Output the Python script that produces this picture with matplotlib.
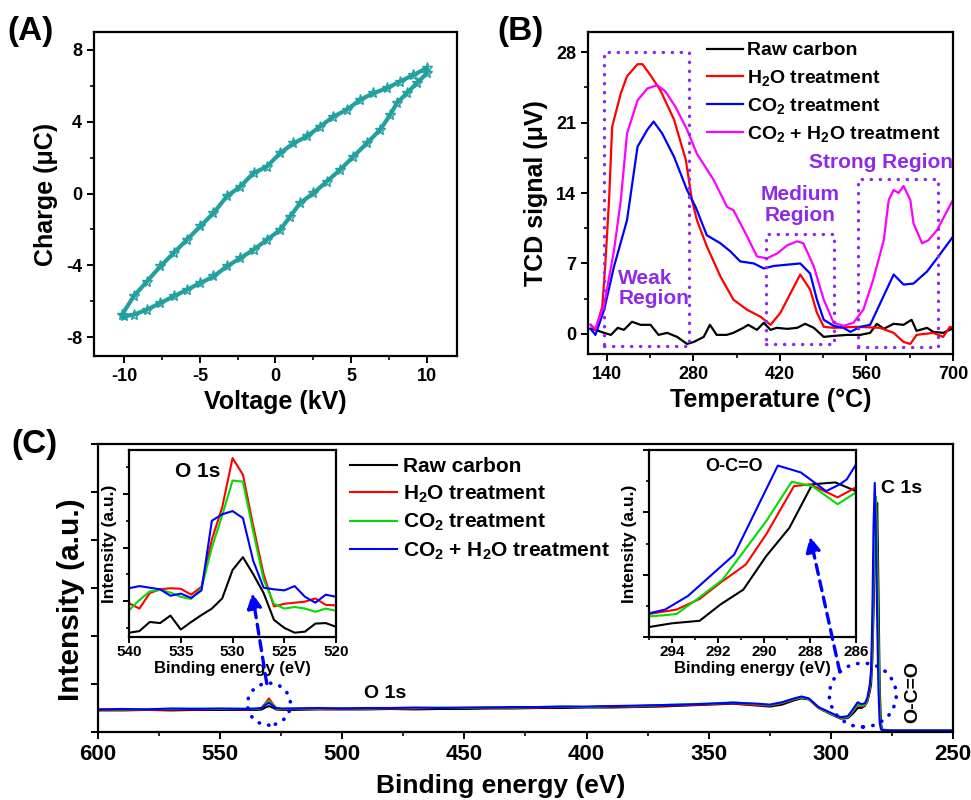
import matplotlib
matplotlib.use("Agg")
import matplotlib.pyplot as plt
from matplotlib.patches import Rectangle, Ellipse, ConnectionPatch
from matplotlib.ticker import MultipleLocator, NullFormatter

# ---------------- data ----------------
# (A) Q-V loop
volt_up = [-10.15, -9.38, -8.5, -7.62, -6.74, -5.86, -4.98, -4.1, -3.22, -2.33, -1.45, -0.57,
           0.31, 1.19, 2.07, 2.95, 3.83, 4.71, 5.59, 6.48, 7.36, 8.24, 9.12, 10.0]
charge_up = [-6.75, -5.73, -4.9, -4.06, -3.32, -2.58, -1.83, -1.09, -0.16, 0.39, 1.14, 1.5,
             2.25, 2.8, 3.18, 3.73, 4.29, 4.66, 5.22, 5.59, 5.87, 6.24, 6.61, 6.98]
volt_down = [10.0, 9.34, 8.68, 8.02, 7.58, 6.92, 6.04, 5.15, 4.27, 3.39, 2.51, 1.63, 0.97,
             0.31, -0.57, -1.45, -2.33, -3.22, -4.1, -4.98, -5.86, -6.74, -7.62, -8.5, -9.38, -10.04]
charge_down = [6.7, 6.14, 5.59, 5.03, 4.38, 3.55, 2.8, 2.06, 1.32, 0.67, 0.02, -0.53, -1.28,
               -2.02, -2.58, -3.13, -3.6, -4.06, -4.62, -4.99, -5.36, -5.73, -6.1, -6.47, -6.75, -6.84]

# (B) TPD
t_raw = [114, 122, 136, 147, 158, 168, 181, 195, 211, 224, 238, 254, 270, 281, 297, 307, 318, 334,
         345, 361, 369, 383, 394, 405, 415, 432, 448, 461, 475, 491, 507, 529, 550, 566, 577, 588,
         604, 620, 633, 641, 658, 668, 684, 698, 700]
tcd_raw = [0.5, 0.4, 0.1, -0.1, 0.6, 0.4, 1.2, 0.9, 0.9, -0.1, 0.1, -0.3, -1.0, -0.8, -0.3, 0.9,
           -0.1, -0.1, 0.1, 0.6, 0.9, 0.4, 1.1, 0.4, 0.6, 0.5, 0.6, 1.0, 0.6, -0.3, -0.2, -0.1,
           -0.1, 0.1, 1.0, 0.5, 1.0, 0.9, 1.4, 0.3, 0.6, 0.2, 0.1, 0.5, 0.4]
t_h2o = [114, 122, 133, 138, 144, 149, 163, 173, 190, 198, 211, 227, 249, 268, 278, 286, 294, 302,
         324, 345, 367, 389, 405, 421, 437, 453, 469, 480, 491, 507, 545, 582, 604, 620, 631, 641,
         668, 684, 695, 700]
tcd_h2o = [0.9, 0.4, 2.7, 7.0, 13.3, 20.6, 23.9, 25.6, 26.8, 26.8, 25.7, 24.2, 21.3, 17.3, 13.3,
           11.3, 10.0, 8.7, 5.7, 3.4, 2.4, 1.7, 0.9, 2.1, 4.0, 5.9, 4.4, 2.1, 0.7, 0.6, 0.7, 0.6,
           0.1, -0.8, -1.0, -0.1, 0.1, -0.3, 0.7, 0.6]
t_co2 = [114, 122, 136, 152, 173, 190, 206, 216, 230, 249, 270, 284, 302, 324, 340, 356, 378, 394,
         410, 453, 469, 480, 491, 507, 523, 534, 550, 566, 582, 604, 620, 636, 658, 674, 698, 700]
tcd_co2 = [0.5, -0.1, 2.4, 6.7, 11.3, 18.6, 20.3, 21.1, 19.9, 17.6, 14.3, 12.6, 9.8, 9.0, 8.2, 7.2,
           7.0, 6.5, 6.75, 7.0, 6.0, 3.4, 1.4, 0.8, 0.6, 0.2, 0.7, 0.9, 3.0, 5.9, 4.9, 5.0, 6.2,
           7.5, 9.5, 9.7]
t_mix = [114, 122, 136, 152, 163, 173, 190, 206, 222, 235, 251, 270, 286, 313, 335, 345, 367, 383,
         399, 416, 432, 448, 458, 475, 491, 507, 523, 539, 555, 571, 588, 596, 604, 612, 620, 631,
         636, 650, 660, 674, 698, 700]
tcd_mix = [0.9, 0.5, 2.9, 8.3, 13.3, 19.9, 23.2, 24.4, 24.7, 24.1, 22.6, 20.3, 17.9, 15.3, 12.6,
           12.3, 9.7, 7.7, 7.5, 8.0, 8.8, 9.2, 9.0, 6.7, 3.4, 1.1, 0.8, 1.1, 2.4, 5.4, 9.3, 13.3,
           14.3, 14.0, 14.7, 13.3, 11.0, 9.0, 9.3, 10.3, 13.1, 13.3]

# (C) XPS survey
ev_c = [600, 590, 580, 570, 560, 550, 540, 535, 533, 531.5, 530, 528.5, 527, 525, 520, 510, 500,
        490, 480, 470, 460, 450, 440, 430, 420, 410, 400, 390, 380, 370, 360, 350, 340, 330, 325,
        320, 315, 312, 309, 305, 300, 296, 293, 291, 289, 287.5, 286, 285, 284, 283.5, 283, 282.5,
        282, 281.5, 281, 280.5, 280, 279.5, 279, 275, 260, 250]
raw_c = [0.45, 0.45, 0.46, 0.45, 0.46, 0.46, 0.46, 0.46, 0.47, 0.51, 0.54, 0.51, 0.47, 0.46, 0.46,
         0.47, 0.47, 0.47, 0.48, 0.47, 0.48, 0.48, 0.49, 0.49, 0.50, 0.50, 0.51, 0.51, 0.52, 0.53,
         0.55, 0.57, 0.59, 0.55, 0.53, 0.57, 0.66, 0.70, 0.68, 0.50, 0.37, 0.28, 0.29, 0.38, 0.50,
         0.50, 0.55, 0.64, 0.85, 1.00, 1.50, 2.50, 3.70, 4.50, 4.77, 3.00, 1.00, 0.20, 0.05, 0.03,
         0.03, 0.03]
h2o_c = [0.46, 0.47, 0.46, 0.47, 0.47, 0.48, 0.47, 0.48, 0.50, 0.60, 0.70, 0.59, 0.49, 0.47, 0.48,
         0.48, 0.48, 0.49, 0.49, 0.49, 0.50, 0.50, 0.50, 0.51, 0.51, 0.52, 0.52, 0.53, 0.53, 0.55,
         0.56, 0.58, 0.60, 0.56, 0.55, 0.60, 0.68, 0.72, 0.69, 0.50, 0.38, 0.30, 0.31, 0.43, 0.56,
         0.53, 0.56, 0.66, 0.92, 1.15, 1.80, 3.20, 4.40, 4.85, 3.70, 1.90, 0.55, 0.12, 0.04, 0.03,
         0.03, 0.03]
co2_c = [0.48, 0.47, 0.48, 0.48, 0.49, 0.48, 0.49, 0.48, 0.50, 0.58, 0.65, 0.57, 0.49, 0.48, 0.49,
         0.49, 0.50, 0.49, 0.50, 0.50, 0.51, 0.50, 0.52, 0.51, 0.52, 0.53, 0.52, 0.54, 0.54, 0.56,
         0.58, 0.59, 0.62, 0.58, 0.56, 0.61, 0.69, 0.72, 0.69, 0.51, 0.38, 0.30, 0.31, 0.44, 0.58,
         0.55, 0.57, 0.68, 0.95, 1.20, 1.90, 3.30, 4.50, 4.90, 3.60, 1.80, 0.50, 0.10, 0.04, 0.03,
         0.03, 0.03]
mix_c = [0.47, 0.48, 0.47, 0.49, 0.48, 0.49, 0.48, 0.49, 0.50, 0.56, 0.61, 0.55, 0.50, 0.49, 0.49,
         0.50, 0.49, 0.50, 0.50, 0.51, 0.50, 0.51, 0.51, 0.52, 0.52, 0.53, 0.53, 0.54, 0.55, 0.56,
         0.57, 0.59, 0.61, 0.59, 0.57, 0.62, 0.70, 0.74, 0.70, 0.52, 0.40, 0.31, 0.33, 0.47, 0.62,
         0.58, 0.60, 0.72, 1.00, 1.30, 2.40, 4.30, 5.19, 4.00, 2.30, 0.90, 0.20, 0.06, 0.04, 0.03,
         0.03, 0.03]

# O 1s inset
ev_o = [540, 539, 538, 537, 536, 535, 534, 533, 532, 531, 530, 529, 528, 527, 526, 525, 524, 523,
        522, 521, 520]
raw_o = [0.41, 0.44, 0.61, 0.59, 0.73, 0.47, 0.61, 0.74, 0.86, 1.05, 1.58, 1.82, 1.5, 1.15, 0.65,
         0.5, 0.41, 0.43, 0.58, 0.59, 0.52]
h2o_o = [0.96, 0.86, 1.15, 1.22, 1.24, 1.23, 1.12, 1.27, 2.15, 2.75, 3.67, 3.36, 2.4, 1.5, 0.9,
         0.95, 0.97, 0.99, 1.05, 0.93, 0.92]
co2_o = [0.83, 1.02, 1.18, 1.21, 1.16, 1.08, 1.04, 1.24, 2.0, 2.6, 3.25, 3.23, 2.3, 1.4, 0.95,
         0.86, 0.89, 0.86, 0.80, 0.86, 0.82]
mix_o = [1.24, 1.28, 1.25, 1.22, 1.10, 1.14, 1.06, 1.20, 2.5, 2.62, 2.68, 2.55, 1.75, 1.25, 1.22,
         1.2, 1.28, 1.08, 0.97, 1.12, 1.08]

# O-C=O inset
ev_raw_r = [295.0, 294.0, 292.8, 291.9, 290.9, 289.9, 288.9, 287.9, 286.9, 286.0]
raw_r = [0.16, 0.22, 0.26, 0.52, 0.76, 1.30, 1.75, 2.45, 2.48, 2.34]
ev_h2o_r = [295.0, 293.8, 292.8, 291.9, 290.8, 289.9, 288.7, 288.0, 286.8, 286.0]
h2o_r = [0.37, 0.44, 0.61, 0.87, 1.16, 1.65, 2.42, 2.45, 2.24, 2.40]
ev_co2_r = [295.0, 294.3, 293.8, 292.9, 291.8, 289.9, 288.8, 287.9, 286.8, 286.0]
co2_r = [0.33, 0.35, 0.37, 0.61, 0.92, 1.86, 2.49, 2.42, 2.13, 2.32]
ev_mix_r = [295.0, 294.3, 293.3, 291.3, 289.4, 288.4, 287.3, 286.7, 286.4, 286.0]
mix_r = [0.38, 0.44, 0.66, 1.32, 2.75, 2.64, 2.34, 2.45, 2.53, 2.77]

# ---------------- style ----------------
plt.rcParams["font.family"] = ["Liberation Sans", "DejaVu Sans"]
plt.rcParams["font.weight"] = "bold"
plt.rcParams["axes.labelweight"] = "bold"
plt.rcParams["axes.unicode_minus"] = False
plt.rcParams["mathtext.fontset"] = "custom"
plt.rcParams["mathtext.rm"] = "Liberation Sans:bold"
plt.rcParams["mathtext.bf"] = "Liberation Sans:bold"
plt.rcParams["mathtext.it"] = "Liberation Sans:bold"
plt.rcParams["axes.linewidth"] = 1.6
for k in ["xtick", "ytick"]:
    plt.rcParams[k + ".direction"] = "out"
    plt.rcParams[k + ".major.size"] = 5
    plt.rcParams[k + ".major.width"] = 1.4
    plt.rcParams[k + ".minor.size"] = 3
    plt.rcParams[k + ".minor.width"] = 1.2

violet = "#8f2be8"
teal = "#22a0a0"
green = "#00dd00"

fig = plt.figure(figsize=(9.71, 8.0), dpi=100)

# ---------------- (A) ----------------
ax_a = fig.add_axes([0.0968, 0.555, 0.3738, 0.405])
ax_a.plot(volt_up, charge_up, color=teal, lw=3, marker="*", ms=8, mfc="none", mew=1)
ax_a.plot(volt_down, charge_down, color=teal, lw=3, marker="*", ms=8, mfc="none", mew=1)
ax_a.set_xlim(-12, 12)
ax_a.set_ylim(-9.05, 9.0)
ax_a.xaxis.set_major_locator(MultipleLocator(5))
ax_a.xaxis.set_minor_locator(MultipleLocator(2.5))
ax_a.yaxis.set_major_locator(MultipleLocator(4))
ax_a.yaxis.set_minor_locator(MultipleLocator(2))
ax_a.tick_params(labelsize=13)
ax_a.set_xlabel("Voltage (kV)", fontsize=18, labelpad=4)
ax_a.set_ylabel("Charge (μC)", fontsize=18, labelpad=6)

# ---------------- (B) ----------------
ax_b = fig.add_axes([0.6056, 0.5575, 0.3759, 0.4025])
ax_b.plot(t_raw, tcd_raw, color="black", lw=1.6, label="Raw carbon")
ax_b.plot(t_h2o, tcd_h2o, color="red", lw=1.6, label="H$_2$O treatment")
ax_b.plot(t_co2, tcd_co2, color="blue", lw=1.6, label="CO$_2$ treatment")
ax_b.plot(t_mix, tcd_mix, color="magenta", lw=1.6, label="CO$_2$ + H$_2$O treatment")
ax_b.set_xlim(110, 700)
ax_b.set_ylim(-2, 30)
ax_b.xaxis.set_major_locator(MultipleLocator(140))
ax_b.xaxis.set_minor_locator(MultipleLocator(70))
ax_b.yaxis.set_major_locator(MultipleLocator(7))
ax_b.yaxis.set_minor_locator(MultipleLocator(3.5))
ax_b.tick_params(labelsize=13)
ax_b.set_xlabel("Temperature (°C)", fontsize=18, labelpad=4)
ax_b.set_ylabel("TCD signal (μV)", fontsize=18, labelpad=6)
dots = (0, (0.1, 2.6))
for x0, y0, x1, y1 in [(135, -1.2, 274, 28), (397, -1.0, 507, 9.9), (547, -1.3, 676, 15.4)]:
    ax_b.add_patch(Rectangle((x0, y0), x1 - x0, y1 - y0, fill=False, ec=violet, lw=2.4,
                             ls=dots, capstyle="round", zorder=3))
ax_b.text(159, 4.5, "Weak\nRegion", color=violet, fontsize=15, ha="left", va="center",
          linespacing=1.1)
ax_b.text(453, 12.8, "Medium\nRegion", color=violet, fontsize=15, ha="center", va="center",
          linespacing=1.1)
ax_b.text(584, 17.0, "Strong Region", color=violet, fontsize=15, ha="center", va="center")
ax_b.legend(loc="upper left", bbox_to_anchor=(0.29, 1.012), frameon=False, fontsize=14,
            handlelength=1.85, handletextpad=0.2, labelspacing=0.42, borderpad=0.2)

# ---------------- (C) ----------------
ax_c = fig.add_axes([0.1009, 0.085, 0.8805, 0.36])
ax_c.plot(ev_c, raw_c, color="black", lw=1.5, label="Raw carbon")
ax_c.plot(ev_c, h2o_c, color="red", lw=1.5, label="H$_2$O treatment")
ax_c.plot(ev_c, co2_c, color=green, lw=1.5, label="CO$_2$ treatment")
ax_c.plot(ev_c, mix_c, color="blue", lw=1.5, label="CO$_2$ + H$_2$O treatment")
ax_c.set_xlim(600, 250)
ax_c.set_ylim(0, 6)
ax_c.xaxis.set_major_locator(MultipleLocator(50))
ax_c.xaxis.set_minor_locator(MultipleLocator(25))
ax_c.yaxis.set_major_locator(MultipleLocator(1))
ax_c.yaxis.set_major_formatter(NullFormatter())
ax_c.tick_params(labelsize=16)
ax_c.set_xlabel("Binding energy (eV)", fontsize=19)
ax_c.xaxis.set_label_coords(0.471, -0.145)
ax_c.set_ylabel("Intensity (a.u.)", fontsize=21.5)
ax_c.yaxis.set_label_coords(-0.015, 0.458)
ax_c.text(482.5, 0.81, "O 1s", fontsize=14, ha="center", va="center")
ax_c.text(279.3, 5.08, "C 1s", fontsize=14, ha="left", va="center")
ax_c.text(266.4, 0.83, "O-C=O", fontsize=14, ha="center", va="center", rotation=90)
ax_c.add_patch(Ellipse((530, 0.58), 17.6, 0.875, fill=False, ec="blue", lw=2.6, ls=dots,
                       capstyle="round", zorder=5))
ax_c.add_patch(Ellipse((286.9, 0.77), 27.4, 1.33, fill=False, ec="blue", lw=2.6, ls=dots,
                       capstyle="round", zorder=5))
ax_c.legend(loc="upper left", bbox_to_anchor=(0.278, 1.005), frameon=False, fontsize=15,
            handlelength=2.26, handletextpad=0.25, labelspacing=0.35, borderpad=0.2)

# O 1s inset
ins_o = fig.add_axes([0.1329, 0.20375, 0.2132, 0.23375])
ins_o.plot(ev_o, raw_o, color="black", lw=1.5)
ins_o.plot(ev_o, h2o_o, color="red", lw=1.5)
ins_o.plot(ev_o, co2_o, color=green, lw=1.5)
ins_o.plot(ev_o, mix_o, color="blue", lw=1.5)
ins_o.set_xlim(540, 520)
ins_o.set_ylim(0.33, 3.82)
ins_o.xaxis.set_major_locator(MultipleLocator(5))
ins_o.yaxis.set_major_locator(MultipleLocator(1))
ins_o.yaxis.set_minor_locator(MultipleLocator(0.5))
ins_o.yaxis.set_major_formatter(NullFormatter())
ins_o.tick_params(labelsize=11, length=4, pad=2)
ins_o.tick_params(which="minor", length=2.5)
ins_o.set_xlabel("Binding energy (eV)", fontsize=12, labelpad=1)
ins_o.set_ylabel("Intensity (a.u.)", fontsize=12.5, labelpad=3)
ins_o.text(533.4, 3.41, "O 1s", fontsize=15, ha="center", va="center")

# O-C=O inset
ins_r = fig.add_axes([0.6684, 0.20375, 0.2132, 0.23375])
ins_r.plot(ev_raw_r, raw_r, color="black", lw=1.5)
ins_r.plot(ev_h2o_r, h2o_r, color="red", lw=1.5)
ins_r.plot(ev_co2_r, co2_r, color=green, lw=1.5)
ins_r.plot(ev_mix_r, mix_r, color="blue", lw=1.5)
ins_r.set_xlim(295, 286)
ins_r.set_ylim(0, 3)
ins_r.xaxis.set_major_locator(MultipleLocator(2))
ins_r.xaxis.set_minor_locator(MultipleLocator(1))
ins_r.yaxis.set_major_locator(MultipleLocator(1))
ins_r.yaxis.set_minor_locator(MultipleLocator(0.5))
ins_r.yaxis.set_major_formatter(NullFormatter())
ins_r.tick_params(labelsize=11, length=4, pad=2)
ins_r.tick_params(which="minor", length=2.5)
ins_r.set_xlabel("Binding energy (eV)", fontsize=12, labelpad=1)
ins_r.set_ylabel("Intensity (a.u.)", fontsize=12.5, labelpad=3)
ins_r.text(291.3, 2.73, "O-C=O", fontsize=13, ha="center", va="center")

# dashed arrows from the circled regions to the insets
for xy_c, xy_i, ins in [((530.9, 1.01), (528.1, 1.15), ins_o),
                        ((296.3, 1.25), (288.0, 1.61), ins_r)]:
    fig.add_artist(ConnectionPatch(xy_c, xy_i, coordsA=ax_c.transData, coordsB=ins.transData,
                                   arrowstyle="-|>", mutation_scale=22, color="blue", lw=2.4,
                                   ls=(0, (3, 2)), zorder=10))

# panel letters
fig.text(0.008, 0.961, "(A)", fontsize=24, va="center", ha="left")
fig.text(0.512, 0.961, "(B)", fontsize=24, va="center", ha="left")
fig.text(0.012, 0.445, "(C)", fontsize=24, va="center", ha="left")

fig.savefig("out.png", dpi=100)
